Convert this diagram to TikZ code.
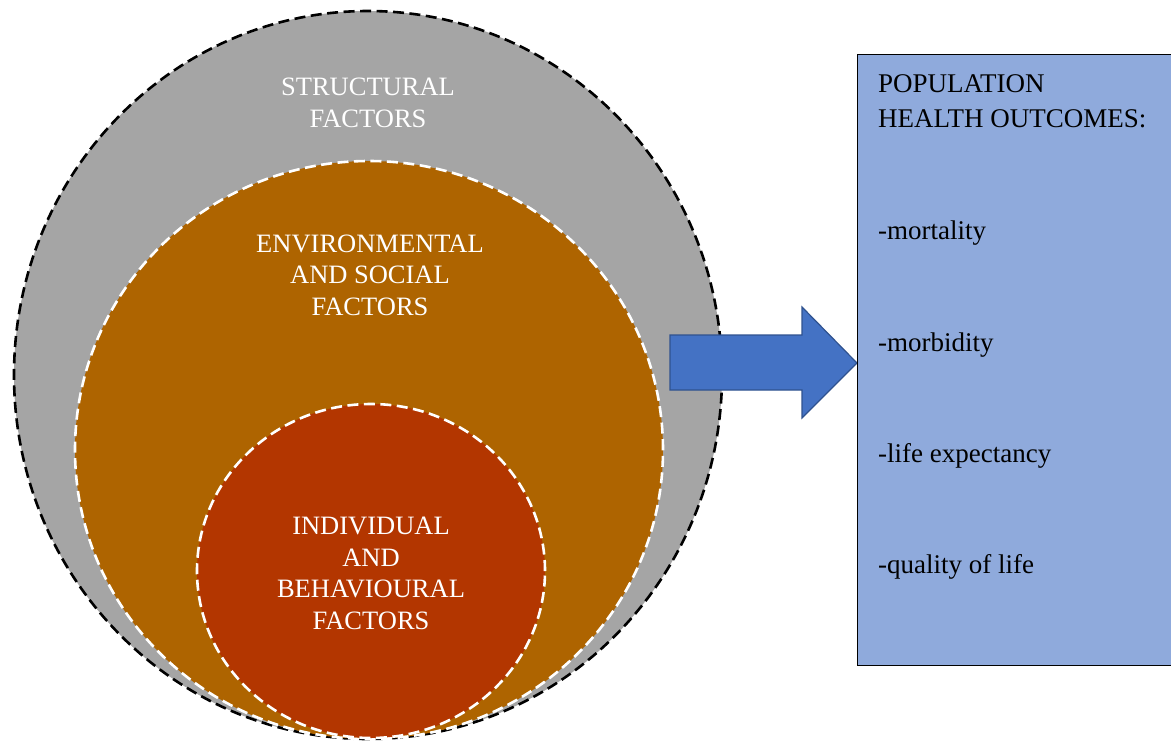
\documentclass[tikz,border=0pt]{standalone}
\usepackage{fontspec}
\setmainfont{Liberation Serif}
\usetikzlibrary{shapes.geometric}
\definecolor{outergray}{HTML}{A5A5A5}
\definecolor{envbrown}{HTML}{AE6400}
\definecolor{indred}{HTML}{B33600}
\definecolor{arrowblue}{HTML}{4472C4}
\definecolor{arrowedge}{HTML}{2F528F}
\definecolor{boxblue}{HTML}{8FAADC}
\begin{document}
\begin{tikzpicture}[x=1pt,y=-1pt,
  ring/.style={ellipse, inner sep=0pt, line width=2.6pt, dash pattern=on 11pt off 5.5pt},
  ringlabel/.style={text=white, align=center, anchor=base, inner sep=0pt, font=\fontsize{26.5}{31.5}\selectfont},
  outlabel/.style={text=black, anchor=base west, inner sep=0pt, font=\fontsize{27}{35}\selectfont}]
\useasboundingbox (0,0) rectangle (1171,740);
\clip (0,0) rectangle (1171,740);
\node[ring, fill=outergray, draw=black, minimum width=708pt, minimum height=728pt] (structural) at (368,375) {};
\node[ring, fill=envbrown, draw=white, minimum width=588pt, minimum height=578pt] (environmental) at (369,450) {};
\node[ring, fill=indred, draw=white, minimum width=348pt, minimum height=334pt] (individual) at (371,571) {};
\node[ringlabel] (structtext) at (368,127) {STRUCTURAL\\FACTORS};
\node[ringlabel] (envtext) at (370,315) {ENVIRONMENTAL\\AND SOCIAL\\FACTORS};
\node[ringlabel] (indtext) at (371,629) {INDIVIDUAL\\AND\\BEHAVIOURAL\\FACTORS};
\draw[fill=arrowblue, draw=arrowedge, line width=1.2pt, line join=miter]
  (670,335) -- (802,335) -- (802,307) -- (857,363) -- (802,418) -- (802,390) -- (670,390) -- cycle;
\node[draw=black, fill=boxblue, line width=1pt, anchor=north west, minimum width=330pt, minimum height=611pt, inner sep=0pt] (outcomes) at (857,54) {};
\node[outlabel] (title1) at (878,92) {POPULATION};
\node[outlabel] (title2) at (878,127) {HEALTH OUTCOMES:};
\node[outlabel] (mort) at (878,239) {-mortality};
\node[outlabel] (morb) at (878,351) {-morbidity};
\node[outlabel] (life) at (878,462) {-life expectancy};
\node[outlabel] (qual) at (878,573) {-quality of life};
\end{tikzpicture}
\end{document}
